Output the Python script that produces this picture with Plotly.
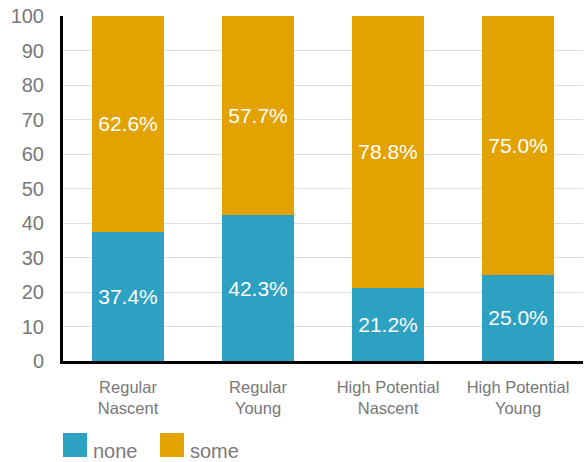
import plotly.graph_objects as go

categories = ["Regular<br>Nascent", "Regular<br>Young", "High Potential<br>Nascent", "High Potential<br>Young"]
none_pct = [37.4, 42.3, 21.2, 25.0]
some_pct = [62.6, 57.7, 78.8, 75.0]
series_names = ["none", "some"]
series_colors = ["#2DA1C1", "#E2A200"]

FONT = "Liberation Sans"

fig = go.Figure()
for name, vals, color in zip(series_names, [none_pct, some_pct], series_colors):
    fig.add_trace(go.Bar(
        x=categories, y=vals, name=name,
        marker=dict(color=color, line=dict(width=0)),
        text=[f"{v:.1f}%" for v in vals],
        textposition="inside", insidetextanchor="middle",
        textfont=dict(color="white", size=21, family=FONT),
        width=0.555, showlegend=False,
    ))

# legend drawn as swatches + labels below the plot
legend_x = [0.0, 97 / 520]
for (lx, name, color) in zip(legend_x, series_names, series_colors):
    fig.add_shape(type="rect", xref="paper", yref="paper",
                  x0=lx, x1=lx + 24 / 520, y0=-0.2087, y1=-0.2783,
                  fillcolor=color, line=dict(width=0))
    fig.add_annotation(xref="paper", yref="paper", x=lx + 28 / 520, y=-0.262,
                       text=name, showarrow=False, xanchor="left", yanchor="middle",
                       font=dict(size=20, color="#7A7A7A", family=FONT))

fig.update_layout(
    barmode="stack",
    width=584, height=462,
    margin=dict(l=63, r=1, t=16, b=101),
    paper_bgcolor="white", plot_bgcolor="white",
    font=dict(family=FONT, color="#777777"),
    bargap=0.445,
)
fig.update_yaxes(
    range=[0, 100], dtick=10, showgrid=True, gridcolor="#DDDDDD", gridwidth=1,
    showline=True, linecolor="black", linewidth=3, ticks="", ticklabelstandoff=12,
    tickfont=dict(size=20, color="#777777", family=FONT), zeroline=False,
)
fig.update_xaxes(
    showline=True, linecolor="black", linewidth=3, ticks="",
    tickfont=dict(size=16.5, color="#777777", family=FONT), ticklabelstandoff=9,
)

fig.write_html("out.html")
